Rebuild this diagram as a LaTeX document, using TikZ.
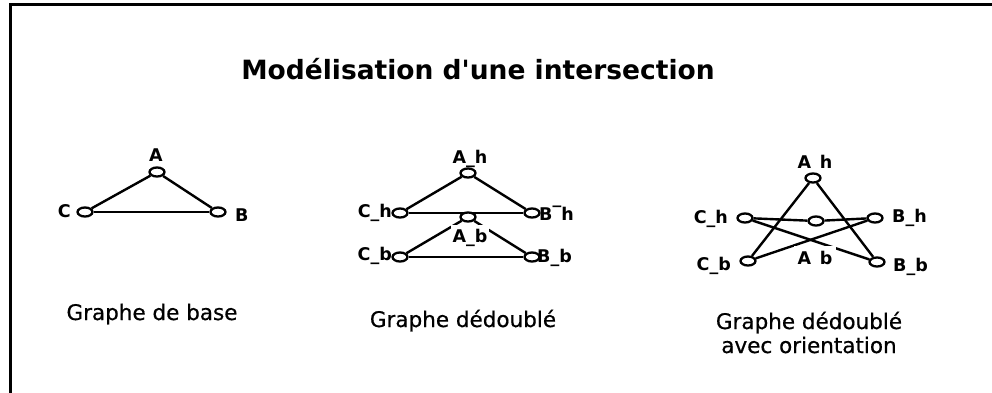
\documentclass[tikz,border=0pt]{standalone}
\usepackage{fontspec}
\setmainfont{DejaVu Sans}
\newfontfamily\capfont[FakeBold=0.6]{DejaVu Sans}
\usetikzlibrary{shapes.geometric,backgrounds}
\begin{document}
\begin{tikzpicture}[x=1pt,y=-1pt,
  vtx/.style={ellipse,draw,line width=2.3pt,fill=white,minimum width=15pt,minimum height=9pt,inner sep=0pt},
  lbl/.style={font=\fontsize{17.5}{20}\selectfont\bfseries,inner sep=1pt},
  gaplbl/.style={lbl,fill=white,inner xsep=2pt,inner ysep=4pt},
  caption/.style={font=\fontsize{21.5}{25}\selectfont\capfont,anchor=base,inner sep=0pt},
  link/.style={line width=2.4pt}]
\useasboundingbox (0,0) rectangle (992,393);
% frame
\coordinate (fbl) at (10,393);
\coordinate (ftl) at (10,5);
\coordinate (ftr) at (992,5);
\draw[line width=3pt] (fbl) -- (ftl) -- (ftr);
% title
\node[font=\fontsize{26.5}{30}\selectfont\bfseries,anchor=base,inner sep=0pt] (title) at (478,80) {Modélisation d\textquotesingle une intersection};

% ---------- graphe de base ----------
\node[vtx] (A) at (157,172) {};
\node[vtx] (C) at (85,212) {};
\node[vtx] (B) at (218,212) {};
\node[lbl,anchor=base] (lA) at (156,161) {A};
\node[lbl,anchor=base east] (lC) at (72,217) {C};
\node[lbl,anchor=base west] (lB) at (234,221) {B};
\begin{scope}[on background layer]
\draw[link] (A) -- (C);
\draw[link] (A) -- (B);
\draw[link] (C) -- (B);
\end{scope}

% ---------- graphe dedouble ----------
\node[vtx] (Ah) at (468,173) {};
\node[vtx] (Ch) at (400,213) {};
\node[vtx] (Bh) at (532,213) {};
\node[vtx] (Ab) at (468,217) {};
\node[vtx] (Cb) at (400,257) {};
\node[vtx] (Bb) at (532,257) {};
\node[lbl,anchor=base] (lAh) at (470,163) {A\_h};
\node[lbl,anchor=base east] (lCh) at (393,217) {C\_h};
\node[lbl,anchor=base west] (lBh) at (538,220) {B\raisebox{0.95em}{\_}h};
\node[gaplbl,anchor=base] (lAb) at (470,242) {A\_b};
\node[lbl,anchor=base east] (lCb) at (393,260) {C\_b};
\node[lbl,anchor=base west] (lBb) at (536,262) {B\_b};
\begin{scope}[on background layer]
\draw[link] (Ah) -- (Ch);
\draw[link] (Ah) -- (Bh);
\draw[link] (Ch) -- (Bh);
\draw[link] (Ab) -- (Cb);
\draw[link] (Ab) -- (Bb);
\draw[link] (Cb) -- (Bb);
\end{scope}

% ---------- graphe dedouble avec orientation ----------
\node[vtx] (RAh) at (813,178) {};
\node[vtx] (RCh) at (745,218) {};
\node[vtx] (RAb) at (816,221) {};
\node[vtx] (RBh) at (875,218) {};
\node[vtx] (RCb) at (748,261) {};
\node[vtx] (RBb) at (877,262) {};
\node[lbl,anchor=base] (lRAh) at (815,168) {A\hphantom{\_}h};
\node[lbl,anchor=base east] (lRCh) at (729,223) {C\_h};
\node[lbl,anchor=base west] (lRBh) at (891,222) {B\_h};
\node[lbl,anchor=base east] (lRCb) at (732,270) {C\_b};
\node[lbl,anchor=base west] (lRBb) at (892,271) {B\_b};
\node[gaplbl,anchor=base,inner xsep=4pt,inner ysep=5pt] (lRAb) at (815,264) {A\hphantom{\_}b};
\begin{scope}[on background layer]
\draw[link] (RAh) -- (RCb);
\draw[link] (RAh) -- (RBb);
\draw[link] (RCh) -- (RAb);
\draw[link] (RAb) -- (RBh);
\draw[link] (RCh) -- (RBb);
\draw[link] (RCb) -- (RBh);
\end{scope}

% captions
\node[caption] (cap1) at (152,320) {Graphe de base};
\node[caption] (cap2) at (463,327) {Graphe dédoublé};
\node[caption] (cap3a) at (809,329) {Graphe dédoublé};
\node[caption] (cap3b) at (809,353) {avec orientation};
\end{tikzpicture}
\end{document}
